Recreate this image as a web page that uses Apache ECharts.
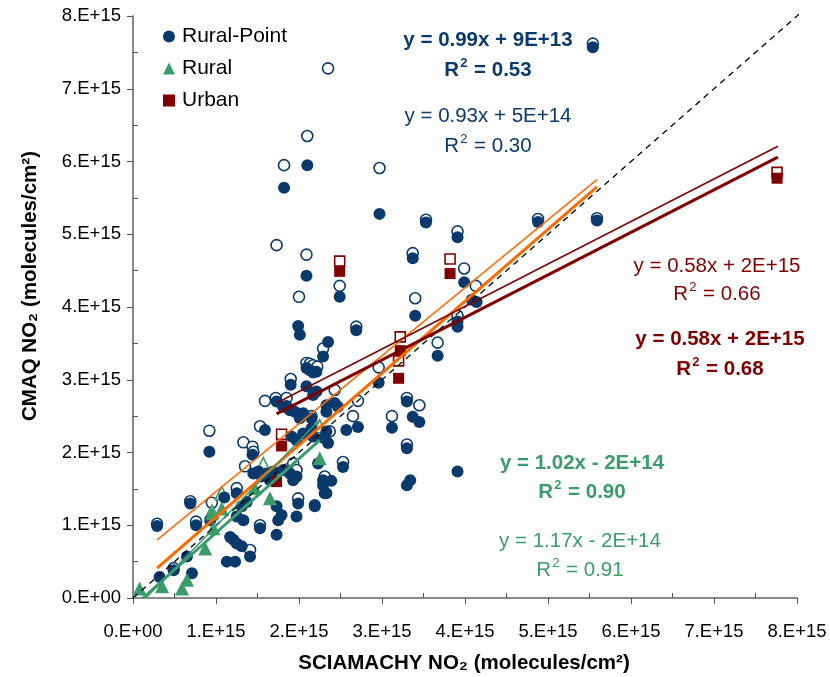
<!DOCTYPE html>
<html><head><meta charset="utf-8">
<script src="https://cdn.jsdelivr.net/npm/echarts@6/dist/echarts.min.js"></script>
<style>html,body{margin:0;padding:0;background:#fff}#c{width:830px;height:677px}</style>
</head><body><div id="c"></div>
<script>
// All values in units of 1E+15 molecules/cm2
const xTickLabels = ['0.E+00','1.E+15','2.E+15','3.E+15','4.E+15','5.E+15','6.E+15','7.E+15','8.E+15'];
const yTickLabels = ['0.E+00','1.E+15','2.E+15','3.E+15','4.E+15','5.E+15','6.E+15','7.E+15','8.E+15'];

const ruralPointFilled = [[5.54,7.57],[2.10,5.95],[1.82,5.64],[2.97,5.28],[5.59,5.19],[4.88,5.17],[3.53,5.16],[3.91,4.96],[2.09,4.43],[3.37,4.67],[3.99,4.34],[2.49,4.14],[3.40,3.88],[4.08,4.10],[4.14,4.07],[3.91,3.80],[3.91,3.73],[1.99,3.74],[2.01,3.62],[2.69,3.68],[2.35,3.52],[2.29,3.32],[3.67,3.33],[2.09,3.16],[2.13,3.13],[2.17,3.10],[2.21,3.11],[2.96,2.96],[1.90,2.93],[2.09,2.91],[2.21,2.84],[2.17,2.79],[2.43,2.68],[2.33,2.65],[2.47,2.63],[1.81,2.63],[1.95,2.56],[2.01,2.47],[3.30,2.70],[3.37,2.49],[3.45,2.42],[3.12,2.34],[2.57,2.31],[2.71,2.35],[2.15,2.47],[2.35,2.13],[2.17,2.22],[3.30,2.06],[3.91,1.74],[2.53,1.80],[3.34,1.62],[3.30,1.55],[2.29,1.62],[2.39,1.61],[2.29,1.55],[2.31,1.44],[1.99,1.30],[2.19,1.28],[1.73,2.70],[1.85,2.64],[1.89,2.58],[2.05,2.54],[2.33,2.56],[0.92,2.01],[1.59,2.31],[1.91,2.22],[1.97,2.17],[2.05,2.26],[2.15,2.33],[2.33,2.29],[2.30,2.20],[1.44,1.97],[1.45,1.71],[1.51,1.74],[1.55,1.67],[1.61,1.71],[1.65,1.62],[1.69,1.74],[1.81,1.76],[1.89,1.71],[1.93,1.62],[1.97,1.67],[0.29,0.99],[0.69,1.30],[0.76,1.00],[0.93,1.07],[0.49,0.38],[0.32,0.29],[0.71,0.34],[0.65,0.57],[1.13,0.50],[1.23,0.50],[1.41,0.57],[1.17,0.84],[1.21,0.80],[1.25,0.75],[1.31,0.71],[1.25,1.12],[1.33,1.07],[1.25,1.44],[1.31,1.26],[1.37,1.32],[1.53,0.96],[1.73,0.87],[1.73,1.26],[1.79,1.14],[1.75,1.07],[1.97,1.12],[2.19,1.26],[2.33,1.44],[1.10,1.38],[2.23,1.85]];
const ruralPointOpen = [[5.54,7.62],[2.35,7.28],[2.10,6.35],[1.82,5.95],[2.97,5.91],[5.59,5.22],[4.88,5.21],[3.53,5.20],[3.91,5.04],[1.73,4.85],[2.09,4.72],[2.00,4.14],[3.37,4.74],[3.99,4.53],[2.49,4.29],[3.40,4.12],[4.13,4.29],[3.91,3.88],[2.69,3.73],[2.29,3.43],[3.67,3.51],[2.09,3.23],[2.13,3.22],[2.17,3.20],[2.22,3.18],[2.96,3.17],[1.90,3.01],[1.85,2.75],[2.43,2.86],[2.71,2.71],[3.30,2.75],[3.45,2.65],[3.12,2.50],[2.65,2.50],[2.37,2.29],[3.30,2.11],[2.53,1.87],[1.99,1.37],[1.59,2.71],[1.72,2.75],[2.15,2.50],[0.92,2.30],[1.53,2.36],[1.33,2.14],[1.44,2.08],[1.45,2.01],[1.35,1.81],[1.93,1.85],[1.97,1.76],[0.29,1.02],[0.69,1.33],[0.76,1.05],[0.95,1.31],[0.49,0.41],[1.41,0.66],[1.25,1.51],[1.53,1.00],[2.31,1.67]];
const ruralFilled = [[0.08,0.13],[0.35,0.16],[0.59,0.13],[0.65,0.25],[0.87,0.68],[0.97,0.96],[0.95,1.16],[1.07,1.23],[1.47,1.51],[1.65,1.37],[2.25,1.92]];
const ruralOpen = [[0.95,1.19],[1.07,1.44],[1.57,1.84],[2.25,2.36]];
const urbanFilled = [[1.73,1.60],[1.79,2.09],[2.49,4.49],[3.82,4.46],[3.22,3.40],[3.20,3.02],[7.76,5.77]];
const urbanOpen = [[1.79,2.25],[2.49,4.63],[3.82,4.66],[3.22,3.59],[3.20,3.26],[7.76,5.85]];

// trend lines (endpoints, same units)
const trendRuralPointBold = [[0.29,0.41],[5.59,5.65]];
const trendRuralPointThin = [[0.29,0.80],[5.59,5.75]];
const trendUrbanBold = [[1.73,2.53],[7.77,6.06]];
const trendUrbanThin = [[1.73,2.68],[7.77,6.21]];
const trendRuralBold = [[0.12,0.0],[2.25,2.17]];
const trendRuralThin = [[0.155,0.0],[2.25,2.45]];
const oneToOne = [[0,0],[8.1,8.1]];

const BLUE = '#0a3a6c', GREEN = '#3a9b6b', RED = '#800000', ORANGE = '#ff6a00', AXIS = '#888888';
const FONT = '"Liberation Sans", Arial, sans-serif';

const chart = echarts.init(document.getElementById('c'));
function openSeries(name, data, symbol, size, color) {
  return {name, type:'scatter', data, symbol, symbolSize:size, z:2,
    itemStyle:{color:'#ffffff', borderColor:color, borderWidth:1.6, opacity:1}, emphasis:{disabled:true}};
}
function filledSeries(name, data, symbol, size, color) {
  return {name, type:'scatter', data, symbol, symbolSize:size, z:3,
    itemStyle:{color, opacity:1}, emphasis:{disabled:true}};
}
function lineSeries(data, color, width, type, noClip) {
  return {type:'line', data, symbol:'none', z:4, silent:true, clip: !noClip,
    lineStyle:{color, width, type: type || 'solid'}};
}
function txt(x, y, text, color, bold) {
  return {type:'text', x, y, z:10, style:{text, fill:color, align:'center', verticalAlign:'middle',
    font:(bold ? 'bold ' : '') + '20.5px ' + FONT}};
}
function r2(x, y, value, color, bold) {
  const w = bold ? 'bold' : 'normal';
  return {type:'text', x, y, z:10, style:{
    text:'{a|R}{s|2}{a| = ' + value + '}', fill:color, align:'center', verticalAlign:'middle',
    rich:{
      a:{fontSize:20.5, fontWeight:w, fontFamily:FONT, fill:color, lineHeight:24, verticalAlign:'bottom'},
      s:{fontSize:13, fontWeight:w, fontFamily:FONT, fill:color, lineHeight:24, verticalAlign:'top', padding:[0,1,0,1]}
    }}};
}

chart.setOption({
  animation:false,
  backgroundColor:'#fff',
  grid:{left:133, right:33, top:16, bottom:79, containLabel:false},
  legend:{
    data:[{name:'Rural-Point', icon:'circle'},{name:'Rural', icon:'triangle'},{name:'Urban', icon:'rect'}],
    orient:'vertical', left:158, top:21, itemWidth:12, itemHeight:12, itemGap:11,
    textStyle:{fontSize:21, fontFamily:FONT, color:'#000', padding:[0,0,0,2]}
  },
  xAxis:[{
    type:'value', min:0, max:8, interval:1, position:'bottom',
    axisLine:{show:true, lineStyle:{color:AXIS, width:2}},
    axisTick:{show:true, length:6, lineStyle:{color:'#555', width:1}},
    axisLabel:{margin:24, fontSize:18.5, fontFamily:FONT, color:'#000', formatter:v=>xTickLabels[Math.round(v)]},
    splitLine:{show:false}
  },{
    type:'value', min:0, max:8, interval:1, position:'bottom',
    axisLine:{show:false}, axisLabel:{show:false}, splitLine:{show:false},
    axisTick:{show:false, inside:true},
    minorTick:{show:true, splitNumber:2, length:5, lineStyle:{color:'#555', width:1}}
  }],
  yAxis:[{
    type:'value', min:0, max:8, interval:1, position:'left',
    axisLine:{show:true, lineStyle:{color:AXIS, width:2}},
    axisTick:{show:true, length:6, lineStyle:{color:'#555', width:1}},
    axisLabel:{margin:12, fontSize:18.5, fontFamily:FONT, color:'#000', formatter:v=>yTickLabels[Math.round(v)]},
    splitLine:{show:false}
  },{
    type:'value', min:0, max:8, interval:1, position:'left',
    axisLine:{show:false}, axisLabel:{show:false}, splitLine:{show:false},
    axisTick:{show:false, inside:true},
    minorTick:{show:true, splitNumber:2, length:5, lineStyle:{color:'#555', width:1}}
  }],
  series:[
    openSeries('Rural-Point open', ruralPointOpen, 'circle', 11, BLUE),
    openSeries('Rural open', ruralOpen, 'triangle', 13, GREEN),
    openSeries('Urban open', urbanOpen, 'rect', 10, RED),
    filledSeries('Rural-Point', ruralPointFilled, 'circle', 12, BLUE),
    filledSeries('Rural', ruralFilled, 'triangle', 14, GREEN),
    filledSeries('Urban', urbanFilled, 'rect', 11, RED),
    lineSeries(oneToOne, '#000', 1.3, [6,5], true),
    lineSeries(trendRuralPointThin, ORANGE, 1.5),
    lineSeries(trendRuralPointBold, ORANGE, 3),
    lineSeries(trendUrbanThin, RED, 1.5),
    lineSeries(trendUrbanBold, RED, 3),
    lineSeries(trendRuralThin, GREEN, 1.5),
    lineSeries(trendRuralBold, GREEN, 3)
  ],
  graphic:[
    txt(488, 40, 'y = 0.99x + 9E+13', BLUE, true),
    r2(488, 69, '0.53', BLUE, true),
    txt(488, 116, 'y = 0.93x + 5E+14', BLUE, false),
    r2(488, 145, '0.30', BLUE, false),
    txt(717, 266, 'y = 0.58x + 2E+15', RED, false),
    r2(717, 293, '0.66', RED, false),
    txt(720, 339, 'y = 0.58x + 2E+15', RED, true),
    r2(720, 368, '0.68', RED, true),
    txt(582, 463, 'y = 1.02x - 2E+14', GREEN, true),
    r2(582, 491, '0.90', GREEN, true),
    txt(580, 541, 'y = 1.17x - 2E+14', GREEN, false),
    r2(580, 569, '0.91', GREEN, false),
    {type:'text', x:464, y:663, style:{text:'SCIAMACHY NO₂ (molecules/cm²)', fill:'#000', align:'center', verticalAlign:'middle', font:'bold 20.5px ' + FONT}},
    {type:'text', x:30, y:286, rotation:Math.PI/2, style:{text:'CMAQ NO₂ (molecules/cm²)', fill:'#000', align:'center', verticalAlign:'middle', font:'bold 20.5px ' + FONT}}
  ]
});
</script></body></html>
